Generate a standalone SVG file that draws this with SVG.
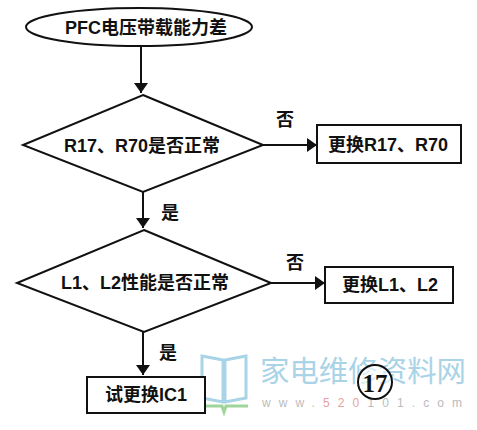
<svg xmlns="http://www.w3.org/2000/svg" width="477" height="430" viewBox="0 0 477 430">
<style>
.s{fill:#fff;stroke:#111;stroke-width:2}
.t{font-family:"Liberation Sans","Noto Sans CJK SC",sans-serif;font-size:18px;fill:#111;text-anchor:middle;dominant-baseline:central;font-weight:bold}
.c{stroke:#111;stroke-width:2;fill:none}
.wm{font-family:"Noto Sans CJK SC",sans-serif;fill:#a9d3e6}
</style>
<defs>
<marker id="a" markerWidth="10" markerHeight="14" refX="10" refY="7" orient="auto" markerUnits="userSpaceOnUse">
<path d="M0,0 L10,7 L0,14 Z" fill="#111"/>
</marker>
</defs>
<rect width="477" height="430" fill="#fff"/>
<g id="watermark">
<path d="M202,356 L223,360 L223,402 L202,398 Z M246,356 L225,360 L225,402 L246,398 Z" fill="none" stroke="#a9d3e6" stroke-width="3"/>
<path d="M200,406 L222,406 L224,412 L226,406 L248,406" fill="none" stroke="#9fd49a" stroke-width="3"/>
<text class="wm" x="260" y="382" font-size="29" textLength="206" lengthAdjust="spacingAndGlyphs">家电维修资料网</text>
<text x="262" y="407" font-family="Liberation Sans,sans-serif" font-size="12" fill="#bbb" textLength="200">www.<tspan fill="#e8a0a0">520</tspan>101.com</text>
</g>
<g id="connectors">
<line class="c" x1="141" y1="45" x2="141" y2="93" marker-end="url(#a)"/>
<line class="c" x1="263" y1="145" x2="317" y2="145" marker-end="url(#a)"/>
<text class="t" x="285" y="120">否</text>
<line class="c" x1="143" y1="192" x2="143" y2="228" marker-end="url(#a)"/>
<text class="t" x="170" y="213">是</text>
<line class="c" x1="271" y1="283" x2="325" y2="283" marker-end="url(#a)"/>
<text class="t" x="295" y="263">否</text>
<line class="c" x1="143" y1="332" x2="143" y2="375" marker-end="url(#a)"/>
<text class="t" x="168" y="353">是</text>
</g>
<g id="start">
<ellipse class="s" cx="139" cy="27" rx="113" ry="19"/>
<text class="t" x="146" y="28" font-size="21">PFC电压带载能力差</text>
</g>
<g id="d1">
<polygon class="s" points="143,95 263,145 143,192 23,145"/>
<text class="t" x="142" y="146">R17、R70是否正常</text>
</g>
<g id="r1">
<rect class="s" x="317" y="125" width="144" height="38"/>
<text class="t" x="388" y="145">更换R17、R70</text>
</g>
<g id="d2">
<polygon class="s" points="144,230 271,283 144,332 17,283"/>
<text class="t" x="145" y="283">L1、L2性能是否正常</text>
</g>
<g id="r2">
<rect class="s" x="325" y="267" width="128" height="36"/>
<text class="t" x="390" y="285">更换L1、L2</text>
</g>
<g id="r3">
<rect class="s" x="87" y="377" width="118" height="36"/>
<text class="t" x="146" y="395">试更换IC1</text>
</g>
<g id="label17">
<circle cx="375" cy="382" r="17" fill="#fff" fill-opacity="0.6" stroke="#111" stroke-width="2"/>
<text x="375" y="383" font-family="Liberation Serif,serif" font-size="25" font-weight="bold" text-anchor="middle" dominant-baseline="central" fill="#111">17</text>
</g>
</svg>
